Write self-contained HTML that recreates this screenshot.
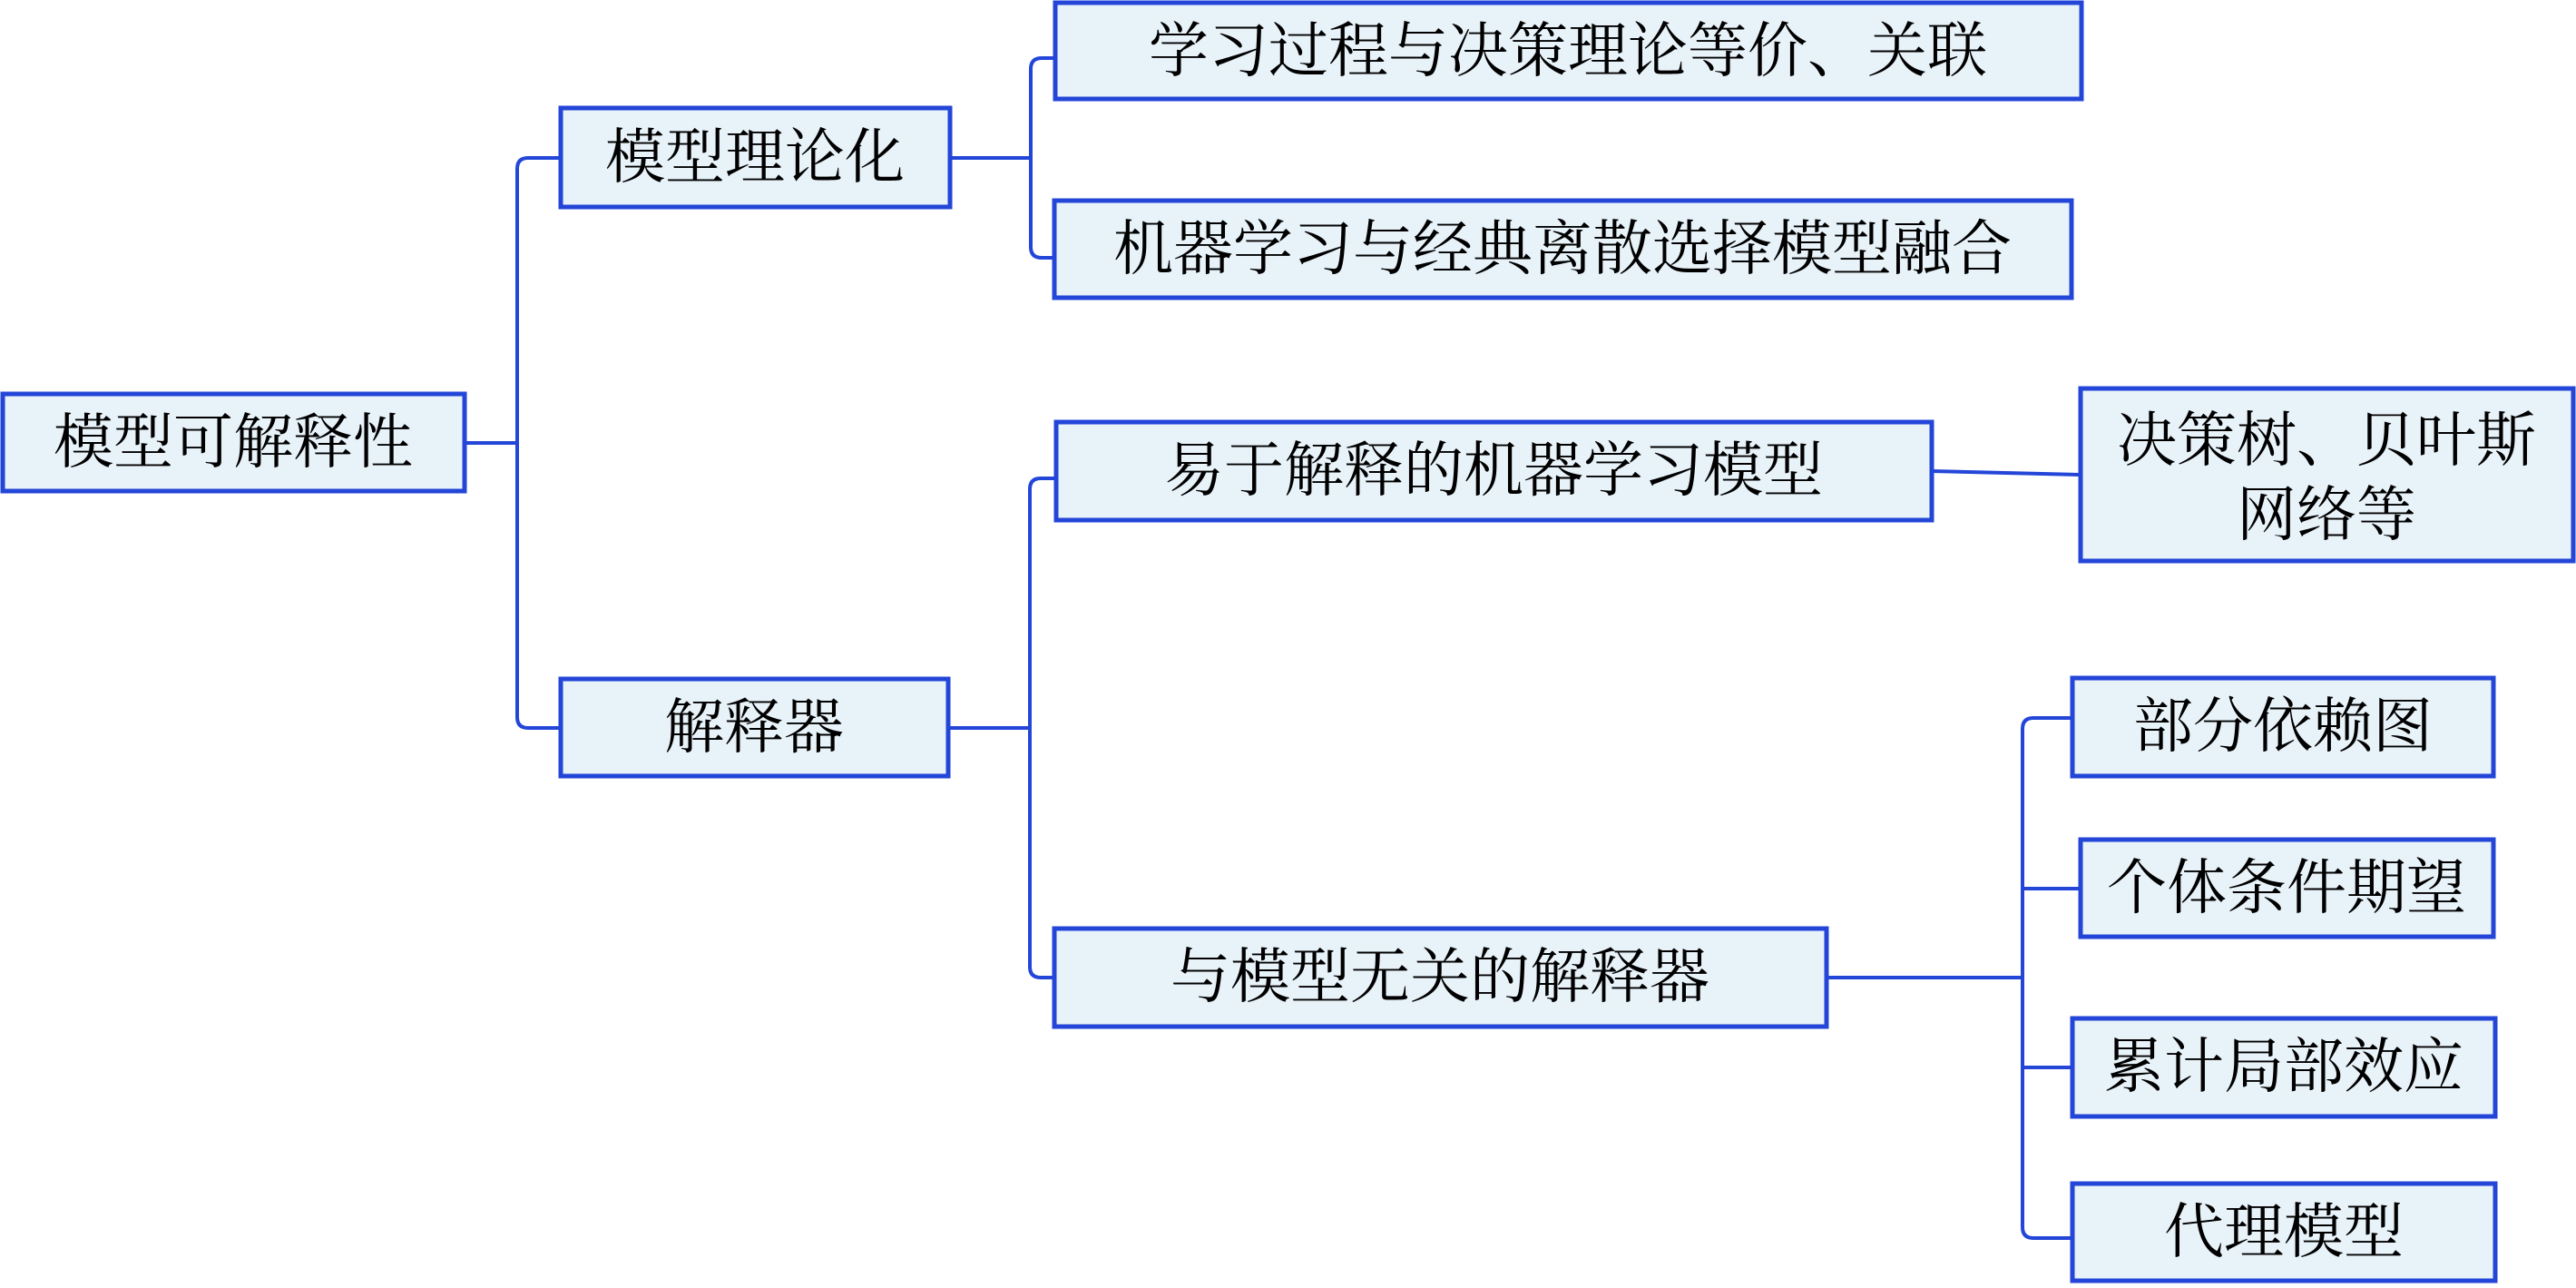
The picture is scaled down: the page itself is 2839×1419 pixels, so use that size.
<!DOCTYPE html>
<html><head><meta charset="utf-8"><style>
html,body{margin:0;padding:0;background:#fff;}
svg text{font-family:"Liberation Serif","Noto Serif CJK SC",serif;font-size:66px;fill:#000;text-anchor:middle;dominant-baseline:central;}
</style></head><body>
<svg width="2839" height="1414" viewBox="0 0 2839 1414" xmlns="http://www.w3.org/2000/svg">
<g fill="none" stroke="#2346d8" stroke-width="4">
<path d="M512 488 H570"/>
<path d="M618 174 H582 Q570 174 570 186 V790 Q570 802 582 802 H618"/>
<path d="M1047 174 H1136"/>
<path d="M1162 64 H1148 Q1136 64 1136 76 V272 Q1136 284 1148 284 H1162"/>
<path d="M1045 802 H1135"/>
<path d="M1164 527 H1147 Q1135 527 1135 539 V1065 Q1135 1077 1147 1077 H1162"/>
<path d="M2129 519 L2293 523"/>
<path d="M2013 1077 H2229"/>
<path d="M2284 791 H2241 Q2229 791 2229 803 V1352 Q2229 1364 2241 1364 H2284"/>
<path d="M2229 979 H2293"/>
<path d="M2229 1176 H2284"/>
</g>
<g fill="#e8f2f9" stroke="#2346d8" stroke-width="5">
<rect x="3" y="434" width="509" height="107"/>
<rect x="618" y="119" width="429" height="109"/>
<rect x="1163" y="3" width="1131" height="106"/>
<rect x="1162" y="221" width="1121" height="107"/>
<rect x="1164" y="465" width="965" height="108"/>
<rect x="2293" y="428" width="543" height="190"/>
<rect x="618" y="748" width="427" height="107"/>
<rect x="1162" y="1023" width="851" height="108"/>
<rect x="2284" y="747" width="464" height="108"/>
<rect x="2293" y="925" width="455" height="107"/>
<rect x="2284" y="1122" width="466" height="108"/>
<rect x="2284" y="1304" width="466" height="107"/>
</g>
<text x="257" y="488">模型可解释性</text>
<text x="832" y="174">模型理论化</text>
<text x="1728" y="57">学习过程与决策理论等价、关联</text>
<text x="1722" y="275">机器学习与经典离散选择模型融合</text>
<text x="1646" y="519">易于解释的机器学习模型</text>
<text x="2564" y="486">决策树、贝叶斯</text>
<text x="2564" y="568">网络等</text>
<text x="831" y="802">解释器</text>
<text x="1587" y="1077">与模型无关的解释器</text>
<text x="2516" y="801">部分依赖图</text>
<text x="2520" y="979">个体条件期望</text>
<text x="2517" y="1176">累计局部效应</text>
<text x="2517" y="1358">代理模型</text>
</svg>
</body></html>
